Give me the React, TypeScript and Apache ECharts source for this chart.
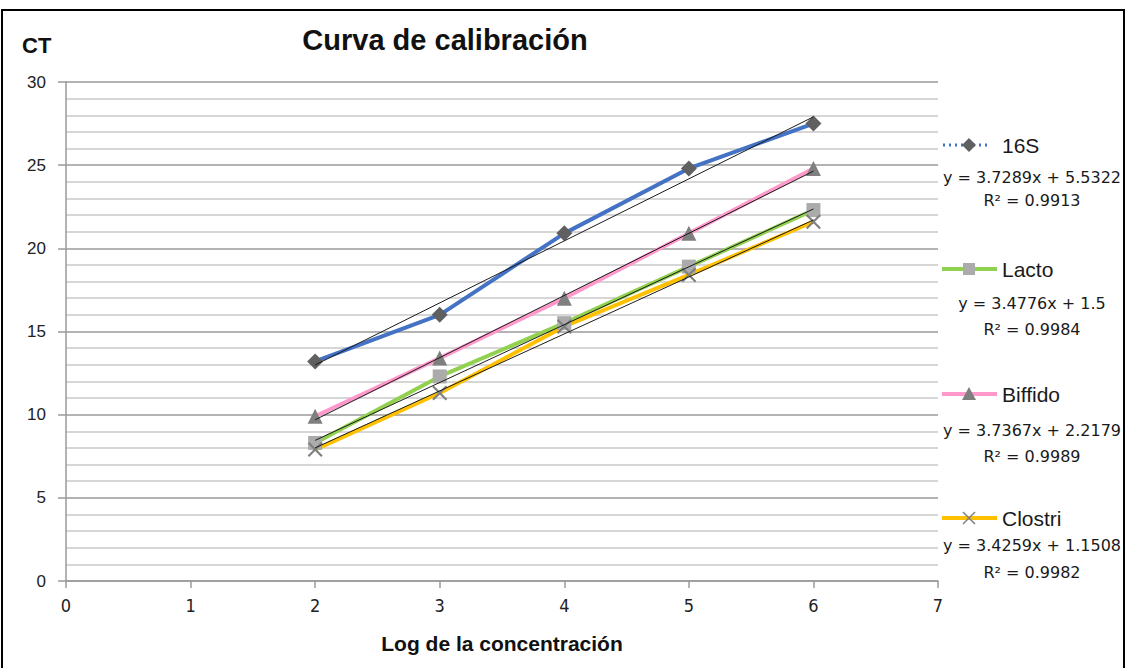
import React, { useEffect, useRef } from "react";
import * as echarts from "echarts";

const xValues = [2, 3, 4, 5, 6];
const names = ["16S", "Lacto", "Biffido", "Clostri"];
const ct16S = [13.2, 16.0, 20.9, 24.8, 27.5];
const ctLacto = [8.3, 12.3, 15.5, 18.9, 22.3];
const ctBiffido = [9.9, 13.4, 17.0, 20.9, 24.8];
const ctClostri = [7.9, 11.3, 15.3, 18.4, 21.6];
const slopes = [3.7289, 3.4776, 3.7367, 3.4259];
const intercepts = [5.5322, 1.5, 2.2179, 1.1508];
const r2 = ["0.9913", "0.9984", "0.9989", "0.9982"];
const yTicks = [0, 5, 10, 15, 20, 25, 30];
const xTicks = [0, 1, 2, 3, 4, 5, 6, 7];

const lineColors = ["#4472C4", "#92D050", "#FF99CC", "#FFC000"];
const markerColors = ["#606060", "#ABABAB", "#7F7F7F", "#7F7F7F"];
const symbols = [
  "diamond",
  "rect",
  "triangle",
  "path://M0,1 L1,0 L5,4 L9,0 L10,1 L6,5 L10,9 L9,10 L5,6 L1,10 L0,9 L4,5 Z",
];
const symbolSizes = [16, 14, 15, 15];

const App: React.FC = () => {
  const ref = useRef<HTMLDivElement>(null);
  useEffect(() => {
    if (!ref.current) return;
    const chart = echarts.init(ref.current, undefined, { renderer: "svg" });
    const allData = [ct16S, ctLacto, ctBiffido, ctClostri];

    const dataSeries = allData.map((vals, i) => ({
      name: names[i],
      type: "line",
      data: xValues.map((x, j) => [x, vals[j]]),
      symbol: symbols[i],
      symbolSize: symbolSizes[i],
      showAllSymbol: true,
      lineStyle: { color: lineColors[i], width: 4 },
      itemStyle: { color: markerColors[i] },
      z: 3,
    }));
    const trendSeries = slopes.map((m, i) => {
      const x0 = xValues[0];
      const x1 = xValues[xValues.length - 1];
      return {
        name: names[i] + " tendencia",
        type: "line",
        data: [
          [x0, m * x0 + intercepts[i]],
          [x1, m * x1 + intercepts[i]],
        ],
        symbol: "none",
        lineStyle: { color: "#1a1a1a", width: 1 },
        z: 4,
        silent: true,
      };
    });

    const legendTops = [145, 269, 394, 518];
    const graphics: any[] = [];
    const eqFont = "16px 'DejaVu Sans', sans-serif";
    legendTops.forEach((yy, i) => {
      if (i === 0) {
        graphics.push({
          type: "line",
          shape: { x1: 943, y1: yy, x2: 989, y2: yy },
          style: { stroke: lineColors[i], lineWidth: 3, lineDash: [2, 4] },
        });
      } else {
        graphics.push({
          type: "line",
          shape: { x1: 942, y1: yy, x2: 997, y2: yy },
          style: { stroke: lineColors[i], lineWidth: 4 },
        });
      }
      const cx = 969;
      if (i === 0) {
        graphics.push({
          type: "polygon",
          shape: { points: [[cx, yy - 7], [cx + 7, yy], [cx, yy + 7], [cx - 7, yy]] },
          style: { fill: markerColors[i] },
        });
      } else if (i === 1) {
        graphics.push({
          type: "rect",
          shape: { x: cx - 6, y: yy - 6, width: 12, height: 12 },
          style: { fill: markerColors[i] },
        });
      } else if (i === 2) {
        graphics.push({
          type: "polygon",
          shape: { points: [[cx, yy - 7], [cx + 7, yy + 6], [cx - 7, yy + 6]] },
          style: { fill: markerColors[i] },
        });
      } else {
        graphics.push({
          type: "line",
          shape: { x1: cx - 6, y1: yy - 6, x2: cx + 6, y2: yy + 6 },
          style: { stroke: markerColors[i], lineWidth: 1.5 },
        });
        graphics.push({
          type: "line",
          shape: { x1: cx + 6, y1: yy - 6, x2: cx - 6, y2: yy + 6 },
          style: { stroke: markerColors[i], lineWidth: 1.5 },
        });
      }
      graphics.push({
        type: "text",
        x: 1002,
        y: yy,
        style: {
          text: names[i],
          font: "21px 'Liberation Sans', Arial, sans-serif",
          fill: "#1a1a1a",
          verticalAlign: "middle",
          align: "left",
        },
      });
      const eqY = [177, 303, 430, 545][i];
      const rY = [200, 329, 456, 572][i];
      graphics.push({
        type: "text",
        x: 1032,
        y: eqY,
        style: {
          text: `y = ${slopes[i]}x + ${intercepts[i]}`,
          font: eqFont,
          fill: "#1a1a1a",
          align: "center",
          verticalAlign: "middle",
        },
      });
      graphics.push({
        type: "text",
        x: 1032,
        y: rY,
        style: {
          text: `R² = ${r2[i]}`,
          font: eqFont,
          fill: "#1a1a1a",
          align: "center",
          verticalAlign: "middle",
        },
      });
    });

    graphics.push({
      type: "rect",
      shape: { x: 2, y: 10, width: 1122, height: 670 },
      style: { fill: "none", stroke: "#000", lineWidth: 2 },
      silent: true,
    });
    graphics.push({
      type: "text",
      x: 22,
      y: 45,
      style: {
        text: "CT",
        font: "bold 22px 'Liberation Sans', Arial, sans-serif",
        fill: "#111",
        verticalAlign: "middle",
      },
    });

    chart.setOption({
      animation: false,
      backgroundColor: "#ffffff",
      title: {
        text: "Curva de calibración",
        left: 440,
        top: 20,
        textAlign: "center",
        textStyle: {
          fontFamily: "'Liberation Sans', Arial, sans-serif",
          fontWeight: "bold",
          fontSize: 29,
          color: "#111",
        },
      },
      grid: { left: 66, right: 189, top: 82, bottom: 87 },
      xAxis: {
        type: "value",
        min: xTicks[0],
        max: xTicks[xTicks.length - 1],
        interval: 1,
        name: "Log de la concentración",
        nameLocation: "middle",
        nameGap: 52,
        nameTextStyle: {
          fontFamily: "'Liberation Sans', Arial, sans-serif",
          fontWeight: "bold",
          fontSize: 21,
          color: "#111",
        },
        axisLine: { show: true, lineStyle: { color: "#9a9a9a", width: 1.5 } },
        axisTick: { show: true, length: 7, lineStyle: { color: "#9a9a9a", width: 1.5 } },
        axisLabel: {
          margin: 15,
          fontFamily: "'Liberation Sans Narrow', 'DejaVu Sans Condensed', sans-serif",
          fontSize: 18,
          color: "#222",
        },
        splitLine: { show: false },
      },
      yAxis: {
        type: "value",
        min: yTicks[0],
        max: yTicks[yTicks.length - 1],
        interval: 5,
        axisLine: { show: true, lineStyle: { color: "#9a9a9a", width: 1.5 } },
        axisTick: { show: true, length: 8, lineStyle: { color: "#9a9a9a", width: 1.5 } },
        axisLabel: {
          margin: 20,
          fontFamily: "'Liberation Sans', Arial, sans-serif",
          fontSize: 17,
          color: "#222",
        },
        splitLine: { show: true, lineStyle: { color: "#9a9a9a", width: 1.5 } },
        minorTick: { show: false, splitNumber: 5 },
        minorSplitLine: { show: true, lineStyle: { color: "#c8c8c8", width: 1.5 } },
      },
      series: [...dataSeries, ...trendSeries],
      graphic: graphics,
    });
    return () => chart.dispose();
  }, []);
  return (
    <div
      ref={ref}
      style={{ position: "fixed", left: 0, top: 0, width: 1127, height: 668 }}
    />
  );
};

export default App;
